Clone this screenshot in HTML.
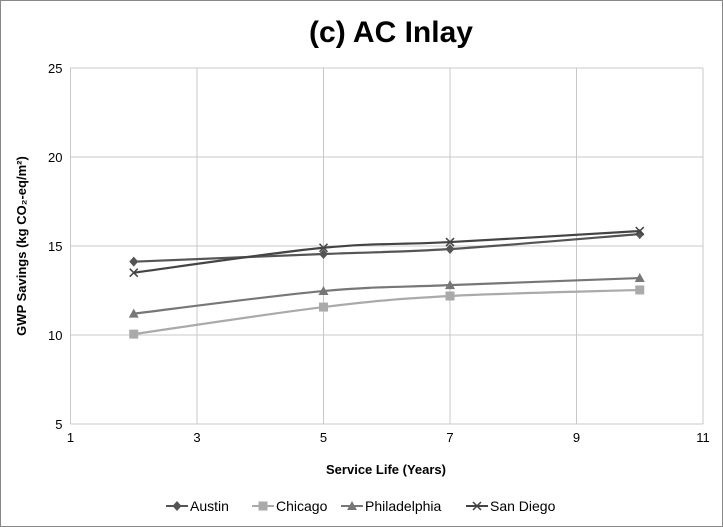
<!DOCTYPE html>
<html><head><meta charset="utf-8"><style>
body{margin:0;background:#fff}
svg{display:block;font-family:"Liberation Sans",sans-serif}
</style></head><body>
<svg id="c" width="723" height="527">
<rect x="0.5" y="0.5" width="722" height="526" fill="#fff" stroke="#888"/>
<text x="391" y="42" text-anchor="middle" font-size="30" font-weight="bold" fill="#000">(c) AC Inlay</text>
<g id="grid"></g><g id="series"></g>
<text transform="translate(26,246) rotate(-90)" text-anchor="middle" font-size="13" font-weight="bold">GWP Savings (kg CO₂-eq/m²)</text>
<text x="386" y="474" text-anchor="middle" font-size="13" font-weight="bold">Service Life (Years)</text>
<g id="legend"></g>
</svg>
<script>
const xTicks=[1,3,5,7,9,11];
const yTicks=[5,10,15,20,25];
const years=[2,5,7,10];
const seriesNames=["Austin","Chicago","Philadelphia","San Diego"];
const austin=[14.12,14.55,14.83,15.67];
const chicago=[10.05,11.57,12.19,12.53];
const philadelphia=[11.2,12.47,12.8,13.2];
const sanDiego=[13.5,14.9,15.22,15.84];
const NS="http://www.w3.org/2000/svg";
const X=v=>70.5+(v-1)*63.25, Y=v=>424-(v-5)*17.8;
function mk(t,a,p){const e=document.createElementNS(NS,t);for(const k in a)e.setAttribute(k,a[k]);(p||document.getElementById('c')).appendChild(e);return e;}
const grid=document.getElementById('grid');
xTicks.forEach(t=>{const l=mk('line',{x1:X(t),x2:X(t),y1:Y(25),y2:Y(5),stroke:'#c8c8c8'},grid);


const tx=mk('text',{x:X(t),y:Y(5)+18,'text-anchor':'middle','font-size':13},grid);tx.textContent=t;

});
yTicks.forEach(t=>{const l=mk('line',{x1:X(1),x2:X(11),y1:Y(t),y2:Y(t),stroke:'#c8c8c8'},grid);


const tx=mk('text',{x:X(1)-8,y:Y(t)+5,'text-anchor':'end','font-size':13},grid);tx.textContent=t;

});
const vals=[austin,chicago,philadelphia,sanDiego];
const cols=['#555','#aaa','#777','#444'];
const marks=['diamond','square','triangle','x'];
function marker(g,type,x,y,c){
 let e;
 if(type==='diamond')e=mk('path',{d:`M${x},${y-5}L${x+4.5},${y}L${x},${y+5}L${x-4.5},${y}Z`,fill:c},g);
 else if(type==='square')e=mk('rect',{x:x-4.5,y:y-4.5,width:9,height:9,fill:c},g);
 else if(type==='triangle')e=mk('path',{d:`M${x},${y-5}L${x+5},${y+4}L${x-5},${y+4}Z`,fill:c},g);
 else e=mk('path',{d:`M${x-4},${y-4}L${x+4},${y+4}M${x+4},${y-4}L${x-4},${y+4}`,stroke:c,'stroke-width':1.5},g);
 return e;
}
function smooth(p){let d=`M${p[0][0]},${p[0][1]}`;for(let i=0;i<p.length-1;i++){const p0=p[i-1]||p[i],p1=p[i],p2=p[i+1],p3=p[i+2]||p2;const t=6;
d+=`C${p1[0]+(p2[0]-p0[0])/t},${p1[1]+(p2[1]-p0[1])/t} ${p2[0]-(p3[0]-p1[0])/t},${p2[1]-(p3[1]-p1[1])/t} ${p2[0]},${p2[1]}`;}return d;}
const sg=document.getElementById('series');
vals.forEach((v,si)=>{const g=mk('g',{},sg);


const pts=years.map((yr,i)=>[X(yr),Y(v[i])]);
mk('path',{d:smooth(pts),fill:'none',stroke:cols[si],'stroke-width':2.2},g);
pts.forEach(p=>{const m=marker(g,marks[si],p[0],p[1],cols[si]);

});});
const lg=document.getElementById('legend');
const lx=[166,252,341,466];
seriesNames.forEach((n,i)=>{const g=mk('g',{},lg);


const y=506;mk('line',{x1:lx[i],x2:lx[i]+22,y1:y,y2:y,stroke:cols[i],'stroke-width':2},g);
marker(g,marks[i],lx[i]+11,y,cols[i]);
const t=mk('text',{x:lx[i]+24,y:y+5,'font-size':14},g);t.textContent=n;});
</script>
</body></html>
